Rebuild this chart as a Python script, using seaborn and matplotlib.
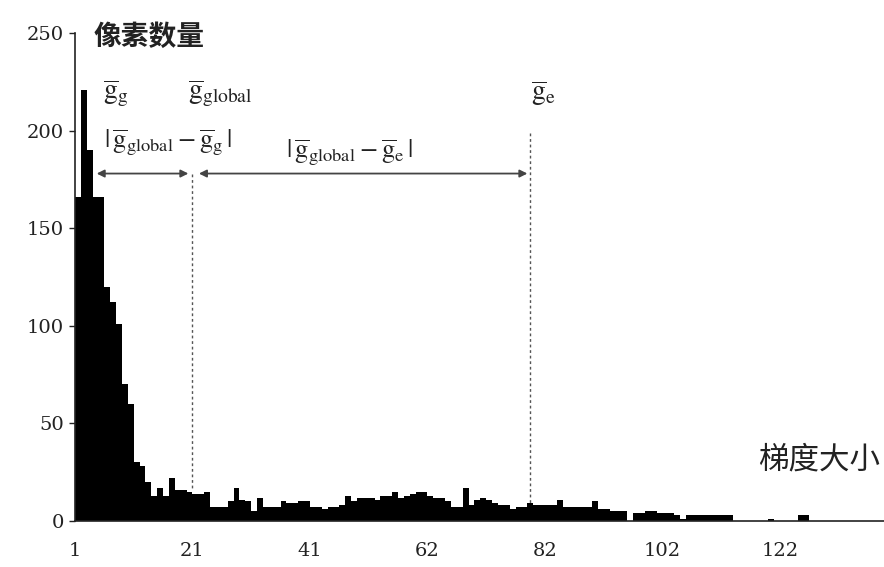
import numpy as np
import pandas as pd
import matplotlib
matplotlib.use("Agg")
import matplotlib.pyplot as plt
import seaborn as sns

# Gradient-magnitude histogram: pixel count per bin
counts = [
    166, 221, 190, 166, 166, 120, 112, 101, 70, 60,
    30, 28, 20, 13, 17, 13, 22, 16, 16, 15,
    14, 14, 15, 7, 7, 7, 10, 17, 11, 10,
    5, 12, 7, 7, 7, 10, 9, 9, 10, 10,
    7, 7, 6, 7, 7, 8, 13, 10, 12, 12,
    12, 11, 13, 13, 15, 12, 13, 14, 15, 15,
    13, 12, 12, 10, 7, 7, 17, 8, 11, 12,
    11, 9, 8, 8, 6, 7, 7, 9, 8, 8,
    8, 8, 11, 7, 7, 7, 7, 7, 10, 6,
    6, 5, 5, 5, 0, 4, 4, 5, 5, 4,
    4, 4, 3, 1, 3, 3, 3, 3, 3, 3,
    3, 3, 0, 0, 0, 0, 0, 0, 1, 0,
    0, 0, 0, 3, 3, 0, 0, 0, 0, 0,
    0, 0, 0, 0, 0, 0, 0, 0,
]
tick_pos = [0, 20, 40, 60, 80, 100, 120]
tick_labels = ["1", "21", "41", "62", "82", "102", "122"]
y_ticks = [0, 50, 100, 150, 200, 250]

# Mean gradient levels (bin coordinates)
g_g = 3.7
g_global = 20.0
g_e = 77.5

sns.set_theme(style="white")
plt.rcParams["font.family"] = ["DejaVu Serif"]
plt.rcParams["mathtext.fontset"] = "stix"

n = len(counts)
df = pd.DataFrame({"bin": np.arange(n) + 0.5, "count": counts})

fig = plt.figure(figsize=(8.84, 5.67), dpi=100)
ax = fig.add_axes([0.0848, 0.0811, 0.9152, 0.8607])

sns.histplot(data=df, x="bin", weights="count", binwidth=1, binrange=(0, n),
             color="black", alpha=1.0, linewidth=0, ax=ax)

ax.set_xlim(0, 137.7)
ax.set_ylim(0, 250)
for s in ["top", "right"]:
    ax.spines[s].set_visible(False)
for s in ["left", "bottom"]:
    ax.spines[s].set_color("#222222")
    ax.spines[s].set_linewidth(1.2)

ax.set_yticks(y_ticks)
ax.set_xticks(tick_pos)
ax.set_xticklabels(tick_labels)
ax.tick_params(axis="y", which="both", left=True, length=4, width=1,
               color="#222222", labelsize=14, labelcolor="#222222", pad=4)
ax.tick_params(axis="x", bottom=False, labelsize=14, labelcolor="#222222", pad=9)
ax.set_xlabel("")
ax.set_ylabel("")

# Axis titles
cjk = ["Noto Sans CJK SC", "DejaVu Sans"]
fig.text(0.106, 0.935, "像素数量", family=cjk, fontsize=20, fontweight="bold",
         color="#222222", ha="left", va="center")
fig.text(0.996, 0.188, "梯度大小", family=cjk, fontsize=22, fontweight="normal",
         color="#222222", ha="right", va="center")

# Reference levels
dash = dict(color="#555555", lw=1.0, linestyle=(0, (2, 2)))
ax.plot([g_global, g_global], [178, 16], **dash)
ax.plot([g_e, g_e], [199, 9], **dash)

arrow = dict(arrowstyle="<|-|>", color="#444444", lw=1.3,
             mutation_scale=11, shrinkA=0, shrinkB=0)
ax.annotate("", xy=(g_g, 178), xytext=(19.3, 178), arrowprops=arrow)
ax.annotate("", xy=(21.1, 178), xytext=(77.0, 178), arrowprops=arrow)

lab = dict(fontsize=20, color="#222222", va="center", ha="left")
ax.text(4.7, 219, r"$\overline{\mathrm{g}}_{\mathrm{g}}$", **lab)
ax.text(19.2, 219, r"$\overline{\mathrm{g}}_{\mathrm{global}}$", **lab)
ax.text(77.6, 219, r"$\overline{\mathrm{g}}_{\mathrm{e}}$", **lab)
ax.text(5.0, 194, r"$|\,\overline{\mathrm{g}}_{\mathrm{global}}-\overline{\mathrm{g}}_{\mathrm{g}}\,|$",
        fontsize=19, color="#222222", va="center", ha="left")
ax.text(36.0, 189, r"$|\,\overline{\mathrm{g}}_{\mathrm{global}}-\overline{\mathrm{g}}_{\mathrm{e}}\,|$",
        fontsize=19, color="#222222", va="center", ha="left")

fig.savefig("out.png", dpi=100)
